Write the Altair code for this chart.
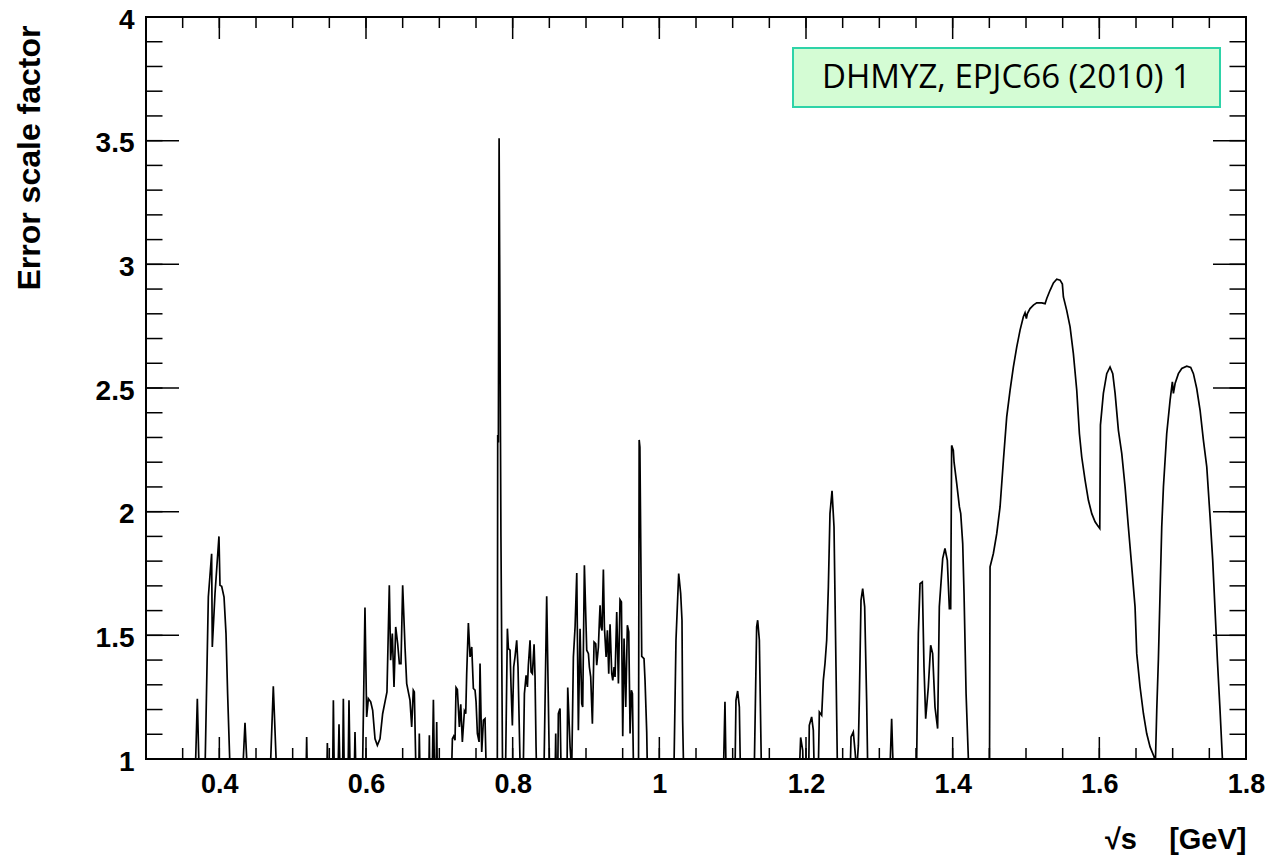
import altair as alt
import pandas as pd

# sqrt(s) in GeV and error scale factor (0.8 = below the axis, clipped)
sqrt_s = [
    0.34, 0.3659, 0.3700, 0.3736,
    0.3795, 0.3850, 0.3895, 0.3904, 0.3941, 0.3995, 0.4009, 0.4032, 0.4064, 0.4091, 0.4113, 0.4163,
    0.4295, 0.4350, 0.4405,
    0.4677, 0.4736, 0.4800,
    0.5175, 0.5191, 0.5207,
    0.5459, 0.5473, 0.5491,
    0.5541, 0.5555, 0.5573,
    0.5609, 0.5632, 0.5655,
    0.5677, 0.5691, 0.5709,
    0.5750, 0.5768, 0.5791,
    0.5832, 0.5850, 0.5873,
    0.5945, 0.5986, 0.6009, 0.6032, 0.6064, 0.6091, 0.6123, 0.6155, 0.6191, 0.6227, 0.6259, 0.6286,
    0.6318, 0.6336, 0.6359, 0.6382, 0.6405, 0.6432, 0.6455, 0.6477, 0.6500, 0.6532, 0.6555, 0.6600,
    0.6623, 0.6645, 0.6659, 0.6691,
    0.6714, 0.6727, 0.6745,
    0.6851, 0.6864, 0.6873,
    0.6896, 0.6919, 0.6941,
    0.6950, 0.6964, 0.6978,
    0.7155, 0.7178, 0.7196, 0.7214, 0.7228, 0.7246, 0.7273, 0.7292, 0.7314, 0.7342, 0.7360, 0.7373,
    0.7396, 0.7419, 0.7442, 0.7464, 0.7487, 0.7501, 0.7519, 0.7542, 0.7555, 0.7578, 0.7601, 0.7623, 0.7651,
    0.7790, 0.7796, 0.7805, 0.7815, 0.7840, 0.7866,
    0.7896, 0.7928, 0.7942, 0.7964, 0.7978, 0.7996, 0.8014, 0.8032, 0.8055, 0.8073, 0.8092, 0.8114,
    0.8137, 0.8160, 0.8183, 0.8201, 0.8214, 0.8237, 0.8251, 0.8269, 0.8292, 0.8305, 0.8319, 0.8337,
    0.8419, 0.8464, 0.8510,
    0.8573, 0.8587, 0.8601,
    0.8610, 0.8623, 0.8646, 0.8669,
    0.8737, 0.8751, 0.8783, 0.8805, 0.8828, 0.8851, 0.8874, 0.8896, 0.8919, 0.8942, 0.8955, 0.8978,
    0.9010, 0.9033, 0.9046, 0.9064, 0.9087, 0.9110, 0.9133, 0.9146, 0.9169, 0.9183, 0.9192, 0.9205,
    0.9219, 0.9237, 0.9251, 0.9274, 0.9292, 0.9310, 0.9328, 0.9351, 0.9365, 0.9383, 0.9396, 0.9419,
    0.9442, 0.9464, 0.9483, 0.9501, 0.9519, 0.9542, 0.9564, 0.9583, 0.9601, 0.9619, 0.9633, 0.9655,
    0.9715, 0.9725, 0.9735, 0.9760, 0.9791, 0.9805, 0.9828, 0.9846,
    1.0191, 1.0227, 1.0264, 1.0291, 1.0309, 1.0318, 1.0341,
    1.0864, 1.0895, 1.0918,
    1.1025, 1.1045, 1.1068, 1.1091, 1.1114,
    1.1286, 1.1327, 1.1341, 1.1364, 1.1400,
    1.1891, 1.1927, 1.1955, 1.1973,
    1.2030, 1.2045, 1.2077, 1.2100, 1.2123,
    1.2159, 1.2182, 1.2214, 1.2236, 1.2259, 1.2282, 1.2305, 1.2327, 1.2355, 1.2382, 1.2409, 1.2436,
    1.2591, 1.2614, 1.2645, 1.2668, 1.2691, 1.2714, 1.2727, 1.2750, 1.2773, 1.2800, 1.2827, 1.2850,
    1.3127, 1.3168, 1.3205,
    1.3500, 1.3532, 1.3555, 1.3586, 1.3609, 1.3632, 1.3668, 1.3700, 1.3727, 1.3759, 1.3795, 1.3818,
    1.3864, 1.3895, 1.3927, 1.3955, 1.3973, 1.3986, 1.4009,
    1.4019, 1.4055, 1.4092, 1.4110, 1.4137, 1.4155, 1.4183, 1.4214, 1.4228,
    1.4501, 1.4510, 1.4555, 1.4601, 1.4646, 1.4692, 1.4737, 1.4783, 1.4828, 1.4874, 1.4919, 1.4964,
    1.4987, 1.5005, 1.5019, 1.5055, 1.5101, 1.5146, 1.5215, 1.5260, 1.5283, 1.5328, 1.5374, 1.5419,
    1.5465, 1.5496, 1.5510, 1.5555, 1.5601, 1.5646, 1.5692, 1.5728, 1.5760, 1.5806, 1.5851, 1.5897,
    1.5942, 1.5974, 1.6006, 1.6015, 1.6055, 1.6101, 1.6146, 1.6183, 1.6215, 1.6260, 1.6306, 1.6351,
    1.6396, 1.6442, 1.6487, 1.6510, 1.6555, 1.6601, 1.6646, 1.6692, 1.6746, 1.6765, 1.6783, 1.6805,
    1.6828, 1.6851, 1.6874, 1.6919, 1.6965, 1.6996, 1.7010, 1.7033, 1.7078, 1.7124, 1.7192, 1.7246,
    1.7283, 1.7328, 1.7374, 1.7419, 1.7465, 1.7510, 1.7546, 1.7578, 1.7610, 1.7646, 1.7678, 1.7692,
    1.79,
]
scale_factor = [
    0.8, 0.8, 1.244, 0.8,
    0.8, 1.655, 1.830, 1.453, 1.669, 1.900, 1.702, 1.698, 1.655, 1.507, 1.264, 0.8,
    0.8, 1.146, 0.8,
    0.8, 1.294, 0.8,
    0.8, 1.089, 0.8,
    0.8, 1.065, 0.8,
    0.8, 1.237, 0.8,
    0.8, 1.140, 0.8,
    0.8, 1.244, 0.8,
    0.8, 1.237, 0.8,
    0.8, 1.109, 0.8,
    0.8, 1.612, 1.170, 1.244, 1.231, 1.197, 1.082, 1.055, 1.082, 1.183, 1.231, 1.271,
    1.702, 1.399, 1.507, 1.291, 1.534, 1.466, 1.386, 1.386, 1.702, 1.453, 1.305, 1.237,
    1.130, 1.278, 1.271, 0.8,
    0.8, 1.103, 0.8,
    0.8, 1.096, 0.8,
    0.8, 1.240, 0.8,
    0.8, 1.150, 0.8,
    0.8, 1.082, 1.092, 1.076, 1.289, 1.281, 1.130, 1.221, 1.069, 1.194, 1.183, 1.345,
    1.550, 1.413, 1.453, 1.285, 1.278, 1.231, 1.103, 1.069, 1.386, 1.028, 1.157, 1.163, 0.8,
    0.8, 2.31, 2.28, 3.51, 1.9, 0.8,
    0.8, 1.527, 1.446, 1.440, 1.291, 1.136, 1.372, 1.413, 1.480, 1.372, 1.103, 0.8,
    0.8, 1.264, 1.338, 1.291, 1.379, 1.480, 1.352, 1.345, 1.464, 1.332, 1.049, 0.8,
    0.8, 1.658, 0.8,
    0.8, 1.103, 0.8,
    0.8, 1.183, 1.204, 0.8,
    0.8, 1.289, 1.049, 0.95, 1.413, 1.534, 1.752, 1.116, 1.527, 1.224, 1.210, 1.783,
    1.440, 1.426, 1.372, 1.332, 1.143, 1.473, 1.466, 1.379, 1.453, 1.561, 1.621, 1.534,
    1.520, 1.766, 1.534, 1.413, 1.520, 1.345, 1.545, 1.345, 1.318, 1.372, 1.332, 1.594,
    1.305, 1.644, 1.635, 1.092, 1.487, 1.210, 1.541, 1.514, 1.103, 1.278, 1.264, 0.8,
    0.8, 2.29, 2.26, 1.415, 1.406, 1.318, 1.109, 0.8,
    0.8, 1.480, 1.750, 1.669, 1.561, 1.157, 0.8,
    0.8, 1.231, 0.8,
    0.8, 1.237, 1.275, 1.210, 0.8,
    0.8, 1.534, 1.561, 1.480, 0.8,
    0.8, 1.087, 1.035, 0.8,
    0.8, 1.136, 1.170, 1.116, 0.8,
    0.8, 1.190, 1.177, 1.318, 1.386, 1.480, 1.696, 1.992, 2.084, 1.938, 1.372, 0.8,
    0.8, 1.089, 1.109, 1.035, 0.95, 1.055, 1.237, 1.642, 1.689, 1.615, 1.237, 0.8,
    0.8, 1.163, 0.8,
    0.8, 1.507, 1.709, 1.716, 1.372, 1.163, 1.291, 1.460, 1.426, 1.210, 1.123, 1.615,
    1.810, 1.851, 1.803, 1.608, 1.608, 2.268, 2.248,
    2.20, 2.114, 2.019, 1.992, 1.871, 1.669, 1.264, 1.002, 0.8,
    0.8, 1.777, 1.831, 1.911, 2.019, 2.208, 2.383, 2.491, 2.585, 2.666, 2.734, 2.788,
    2.804, 2.781, 2.801, 2.821, 2.835, 2.844, 2.844, 2.841, 2.862, 2.895, 2.925, 2.940,
    2.936, 2.920, 2.868, 2.814, 2.747, 2.639, 2.491, 2.316, 2.221, 2.127, 2.046, 1.992,
    1.959, 1.945, 1.932, 2.350, 2.478, 2.558, 2.585, 2.558, 2.478, 2.329, 2.235, 2.100,
    1.938, 1.777, 1.615, 1.426, 1.292, 1.184, 1.103, 1.049, 1.009, 0.99, 1.197, 1.399,
    1.669, 1.938, 2.100, 2.316, 2.451, 2.525, 2.478, 2.518, 2.558, 2.579, 2.588, 2.583,
    2.558, 2.498, 2.410, 2.289, 2.181, 1.979, 1.804, 1.602, 1.399, 1.197, 1.002, 0.8,
    0.8,
]

x_labels = [0.4, 0.6, 0.8, 1.0, 1.2, 1.4, 1.6, 1.8]
y_labels = [1.0, 1.5, 2.0, 2.5, 3.0, 3.5, 4.0]
x_minor = [round(0.3 + 0.05 * i, 2) for i in range(31)]
y_minor = [round(1.0 + 0.1 * i, 1) for i in range(31)]
legend_text = ["DHMYZ, EPJC66 (2010) 1"]

W, H = 1100, 742
FONT = "Liberation Sans"

xscale = alt.Scale(domain=[0.3, 1.8], nice=False, zero=False)
yscale = alt.Scale(domain=[1.0, 4.0], nice=False, zero=False)

xaxis = alt.Axis(values=x_labels, format="~g", ticks=False, domain=False, grid=False,
                 labelFont=FONT, labelFontWeight="bold", labelFontSize=27,
                 labelColor="black", labelPadding=12, labelFlush=False,
                 labelOverlap=False,
                 title="\u221as\u00a0\u00a0\u00a0\u00a0[GeV]", titleFont=FONT, titleFontWeight="bold",
                 titleFontSize=29, titleColor="black", titleAnchor="end",
                 titleAlign="right", titleBaseline="middle", titleX=W, titleY=80)
yaxis = alt.Axis(values=y_labels, format="~g", ticks=False, domain=False, grid=False,
                 labelFont=FONT, labelFontWeight="bold", labelFontSize=28,
                 labelColor="black", labelPadding=12, labelFlush=False,
                 labelOverlap=False, labelOffset=3,
                 title="Error scale factor", titleFont=FONT, titleFontWeight="bold",
                 titleFontSize=32, titleColor="black", titleAngle=270,
                 titleAnchor="end", titleAlign="right", titleBaseline="middle",
                 titleX=-117, titleY=8)

df = pd.DataFrame({"x": sqrt_s, "y": scale_factor})

line = alt.Chart(df).mark_line(color="black", strokeWidth=1.7, clip=True).encode(
    x=alt.X("x:Q", scale=xscale, axis=xaxis),
    y=alt.Y("y:Q", scale=yscale, axis=yaxis),
)

xmaj = pd.DataFrame({"x": x_labels})
xmin = pd.DataFrame({"x": x_minor})
ymaj = pd.DataFrame({"y": y_labels})
ymin = pd.DataFrame({"y": y_minor})

def xticks(data, y0, y1):
    return alt.Chart(data).mark_rule(color="black", strokeWidth=1.5).encode(
        x=alt.X("x:Q", scale=xscale, axis=xaxis), y=alt.value(y0), y2=alt.value(y1))

def yticks(data, x0, x1):
    return alt.Chart(data).mark_rule(color="black", strokeWidth=1.5).encode(
        y=alt.Y("y:Q", scale=yscale, axis=yaxis), x=alt.value(x0), x2=alt.value(x1))

ticks = [
    xticks(xmaj, H, H - 22), xticks(xmin, H, H - 11),
    xticks(xmaj, 0, 22), xticks(xmin, 0, 11),
    yticks(ymaj, 0, 33), yticks(ymin, 0, 16.5),
    yticks(ymaj, W, W - 33), yticks(ymin, W, W - 16.5),
]

leg_df = pd.DataFrame({"t": legend_text})
box = alt.Chart(leg_df).mark_rect(fill="#d4fcd4", stroke="#2ed3a8", strokeWidth=2).encode(
    x=alt.value(647), x2=alt.value(1074), y=alt.value(31), y2=alt.value(90))
txt = alt.Chart(leg_df).mark_text(font="Open Sans", fontSize=33, color="black",
                                   align="center", baseline="middle").encode(
    x=alt.value(860.5), y=alt.value(61), text="t:N")

chart = alt.layer(line, *ticks, box, txt).properties(
    width=W, height=H,
    autosize=alt.AutoSizeParams(type="none"),
    padding={"left": 146, "top": 17, "right": 21, "bottom": 98},
    background="white",
).configure_view(stroke="black", strokeWidth=2)

chart.save("out.html", embed_options={"renderer": "svg", "actions": False})
